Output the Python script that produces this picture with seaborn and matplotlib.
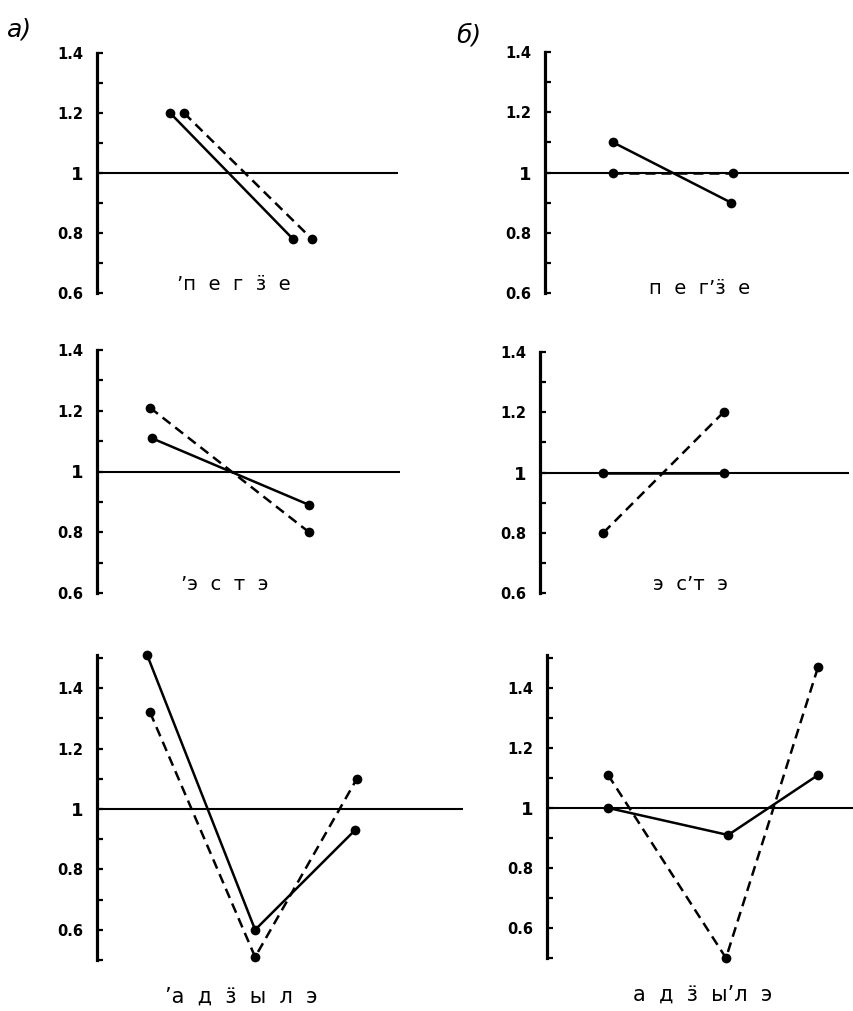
import numpy as np
import pandas as pd
import matplotlib
matplotlib.use('Agg')
import matplotlib.pyplot as plt
import seaborn as sns

sns.set_theme(style='white')
plt.rcParams['font.family'] = ['DejaVu Sans']
plt.rcParams['text.color'] = 'black'
plt.rcParams['ytick.color'] = 'black'

W, H = 854, 1011

# x positions are fractions of the panel width (axis at 0)
# panel a1: 'пегӟе
a1_x_solid = [0.243, 0.651]
a1_y_solid = [1.20, 0.78]
a1_x_dash = [0.289, 0.714]
a1_y_dash = [1.20, 0.78]

# panel b1: пег'ӟе
b1_x_solid = [0.224, 0.612]
b1_y_solid = [1.10, 0.90]
b1_x_dash = [0.224, 0.618]
b1_y_dash = [1.00, 1.00]

# panel a2: 'эстэ
a2_x_solid = [0.180, 0.700]
a2_y_solid = [1.11, 0.89]
a2_x_dash = [0.175, 0.700]
a2_y_dash = [1.21, 0.80]

# panel b2: эс'тэ
b2_x_solid = [0.205, 0.594]
b2_y_solid = [1.00, 1.00]
b2_x_dash = [0.205, 0.594]
b2_y_dash = [0.80, 1.20]

# panel a3: 'адӟылэ
a3_x_solid = [0.137, 0.432, 0.705]
a3_y_solid = [1.51, 0.60, 0.93]
a3_x_dash = [0.145, 0.432, 0.710]
a3_y_dash = [1.32, 0.51, 1.10]

# panel b3: адӟы'лэ
b3_x_solid = [0.200, 0.590, 0.883]
b3_y_solid = [1.00, 0.91, 1.11]
b3_x_dash = [0.199, 0.583, 0.883]
b3_y_dash = [1.11, 0.50, 1.47]

major_ticks = [0.6, 0.8, 1.0, 1.2, 1.4]
major_labels = ['0.6', '0.8', '1', '1.2', '1.4']


def make_axes(fig, left, right, top, bottom):
    return fig.add_axes([left / W, 1 - bottom / H, (right - left) / W, (bottom - top) / H])


def draw_panel(ax, xs_s, ys_s, xs_d, ys_d, ylim, minor, word, word_x, word_y, word_size):
    df = pd.DataFrame({
        'x': list(xs_s) + list(xs_d),
        'y': list(ys_s) + list(ys_d),
        'kind': ['solid'] * len(xs_s) + ['dash'] * len(xs_d),
    })
    ax.axhline(1.0, color='black', lw=1.5, zorder=1)
    sns.lineplot(data=df, x='x', y='y', style='kind', ax=ax, color='black',
                 dashes={'solid': '', 'dash': (4, 2.4)},
                 markers={'solid': 'o', 'dash': 'o'},
                 markersize=7, markeredgewidth=0, lw=1.8,
                 estimator=None, sort=False, legend=False, zorder=3, clip_on=False)
    ax.set_xlim(0, 1)
    ax.set_ylim(*ylim)
    ax.set_yticks(major_ticks)
    ax.set_yticklabels(major_labels)
    ax.set_yticks(minor, minor=True)
    ax.set_xticks([])
    ax.set_xlabel('')
    ax.set_ylabel('')
    for s in ['top', 'right', 'bottom']:
        ax.spines[s].set_visible(False)
    ax.spines['left'].set_linewidth(2.3)
    ax.spines['left'].set_color('black')
    ax.tick_params(axis='y', which='both', direction='in', left=True,
                   length=4, width=1.6, color='black', labelcolor='black', pad=10)
    for lab in ax.get_yticklabels():
        lab.set_fontweight('bold')
        lab.set_fontsize(13 if lab.get_text() == '1' else 10.5)
    ax.patch.set_alpha(0)
    ax.text(word_x, word_y, word, transform=ax.transAxes, ha='center', va='center',
            fontsize=word_size, color='black', clip_on=False)


fig = plt.figure(figsize=(W / 100, H / 100), dpi=100)

minor_top = [0.7, 0.9, 1.1, 1.3]
minor_bot = [0.5, 0.7, 0.9, 1.1, 1.3, 1.5]

ax = make_axes(fig, 97, 398, 53, 293)
draw_panel(ax, a1_x_solid, a1_y_solid, a1_x_dash, a1_y_dash, (0.6, 1.4), minor_top,
           '’п  е  г  ӟ  е', 0.455, 0.035, 14)

ax = make_axes(fig, 545, 849, 52, 293)
draw_panel(ax, b1_x_solid, b1_y_solid, b1_x_dash, b1_y_dash, (0.6, 1.4), minor_top,
           'п  е  г’ӟ  е', 0.51, 0.02, 14)

ax = make_axes(fig, 97, 400, 350, 593)
draw_panel(ax, a2_x_solid, a2_y_solid, a2_x_dash, a2_y_dash, (0.6, 1.4), minor_top,
           '’э  с  т  э', 0.42, 0.035, 14)

ax = make_axes(fig, 540, 849, 352, 593)
draw_panel(ax, b2_x_solid, b2_y_solid, b2_x_dash, b2_y_dash, (0.6, 1.4), minor_top,
           'э  с’т  э', 0.487, 0.035, 14)

ax = make_axes(fig, 97, 463, 655, 960)
draw_panel(ax, a3_x_solid, a3_y_solid, a3_x_dash, a3_y_dash, (0.5, 1.51), minor_bot,
           '’а  д  ӟ  ы  л  э', 0.393, -0.12, 15)

ax = make_axes(fig, 547, 854, 655, 958)
draw_panel(ax, b3_x_solid, b3_y_solid, b3_x_dash, b3_y_dash, (0.5, 1.51), minor_bot,
           'а  д  ӟ  ы’л  э', 0.508, -0.12, 15)

fig.text(20 / W, 1 - 30 / H, 'а)', fontsize=18, style='italic', ha='center', va='center')
fig.text(469 / W, 1 - 36 / H, 'б)', fontsize=18, style='italic', ha='center', va='center')

fig.savefig('out.png', dpi=100, facecolor='white')
